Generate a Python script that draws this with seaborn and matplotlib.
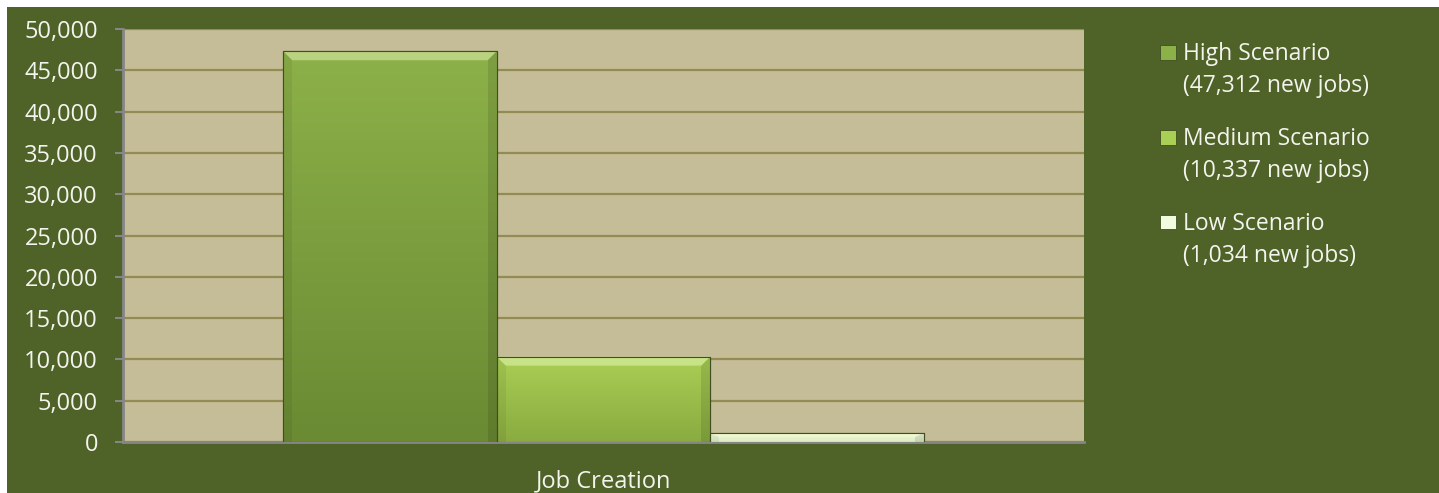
import matplotlib
matplotlib.use("Agg")
import matplotlib.pyplot as plt
import matplotlib.colors as mcolors
import matplotlib.ticker as mticker
from matplotlib.patches import Rectangle, Patch, Polygon
from matplotlib.legend_handler import HandlerPatch
import numpy as np
import pandas as pd
import seaborn as sns

### data
category = ["Job Creation"]
scenarios = ["High Scenario\n(47,312 new jobs)",
             "Medium Scenario\n(10,337 new jobs)",
             "Low Scenario\n(1,034 new jobs)"]
jobs = [47312, 10337, 1034]
y_ticks = list(range(0, 50001, 5000))

### style
sns.set_theme(style='white')
plt.rcParams['font.family'] = ['Open Sans', 'DejaVu Sans']

bg_green = '#4F6228'
plot_tan = '#C4BD97'
grid_col = '#948A54'
axis_gray = '#868686'
text_col = '#F4F4EE'
# top / bottom colours of the gradient fill for each bar
bar_tops = ['#8DB149', '#AACF55', '#F2FADF']
bar_bottoms = ['#6A8A33', '#89AB40', '#DCEBC0']

df = pd.DataFrame({'cat': category * len(scenarios), 'scenario': scenarios, 'jobs': jobs})

fig = plt.figure(figsize=(14.39, 4.93), dpi=100)
fig.patch.set_facecolor('white')
# green chart area with thin white margin at top/left
fig.patches.append(Rectangle((7 / 1439, -0.01), 1, 1.01 - 7 / 493,
                             transform=fig.transFigure, facecolor=bg_green,
                             edgecolor='none', zorder=-10))

ax = fig.add_axes([123 / 1439, 51 / 493, 961 / 1439, 413 / 493])
ax.set_facecolor(plot_tan)

sns.barplot(data=df, x='cat', y='jobs', hue='scenario', hue_order=scenarios,
            palette=bar_tops, width=2 / 3, saturation=1, ax=ax, legend=False,
            edgecolor='#3F4F20', linewidth=0.8, zorder=3)

ax.set_xlim(-0.5, 0.5)
ax.set_ylim(0, 50000)

# gradient fill clipped to each bar, plus a simple bevel
px_x = 1.0 / 961        # one pixel in x data units
px_y = 50000 / 413      # one pixel in y data units
for patch, top, bot in zip(list(ax.patches), bar_tops, bar_bottoms):
    x0, y0 = patch.get_x(), patch.get_y()
    w, h = patch.get_width(), patch.get_height()
    grad = np.linspace(0, 1, 256).reshape(-1, 1)
    cmap = mcolors.LinearSegmentedColormap.from_list('g', [bot, top])
    im = ax.imshow(grad, cmap=cmap, origin='lower', aspect='auto',
                   extent=[x0, x0 + w, y0, y0 + h], zorder=3.5)
    im.set_clip_path(patch)
    b = min(9 * px_y, h * 0.45)
    bx = 9 * px_x
    y1 = y0 + h
    # light top bevel
    ax.add_patch(Polygon([(x0, y1), (x0 + w, y1), (x0 + w - bx, y1 - b), (x0 + bx, y1 - b)],
                         closed=True, facecolor=mcolors.to_rgba('#F0FFC8', 0.45),
                         edgecolor='none', zorder=3.6))
    # darker sides
    ax.add_patch(Polygon([(x0 + w, y1), (x0 + w, y0), (x0 + w - bx, y0), (x0 + w - bx, y1 - b)],
                         closed=True, facecolor=mcolors.to_rgba('black', 0.10),
                         edgecolor='none', zorder=3.6))
    ax.add_patch(Polygon([(x0, y1), (x0, y0), (x0 + bx, y0), (x0 + bx, y1 - b)],
                         closed=True, facecolor=mcolors.to_rgba('black', 0.06),
                         edgecolor='none', zorder=3.6))
    ax.add_patch(Rectangle((x0, y0), w, h, facecolor='none', edgecolor='#3F4F20',
                           linewidth=0.8, zorder=3.7))

ax.set_yticks(y_ticks)
ax.yaxis.set_major_formatter(mticker.StrMethodFormatter('{x:,.0f}'))
ax.grid(axis='y', color=grid_col, linewidth=1.6, zorder=0)
ax.set_axisbelow(True)

ax.set_xticks([0])
ax.set_xticklabels(category)
ax.set_xticks([-0.5, 0.5], minor=True)
ax.tick_params(axis='x', which='major', length=0, pad=20, labelsize=17, colors=text_col)
ax.tick_params(axis='x', which='minor', length=6, width=1.5, color=axis_gray, direction='out')
ax.tick_params(axis='y', length=6, width=1.5, color=axis_gray, direction='out',
               labelsize=17, labelcolor=text_col, pad=12, left=True)
ax.set_xlabel('')
ax.set_ylabel('')

for side in ['top', 'right']:
    ax.spines[side].set_visible(False)
for side in ['left', 'bottom']:
    ax.spines[side].set_color(axis_gray)
    ax.spines[side].set_linewidth(2)


# legend swatch aligned with the first line of each label
def top_swatch(legend, orig_handle, xdescent, ydescent, width, height, fontsize):
    return Rectangle((-xdescent, -ydescent + 0.8 * fontsize), width, height)


handles = [Patch(facecolor=c, edgecolor='#3F4F20', linewidth=0.6) for c in bar_tops]
leg = fig.legend(handles, scenarios, loc='upper left', bbox_to_anchor=(1139 / 1439, 1 - 21 / 493),
                 frameon=False, fontsize=16.5, labelcolor=text_col, handlelength=0.7,
                 handleheight=0.6, handletextpad=0.3, labelspacing=1.26,
                 handler_map={Patch: HandlerPatch(patch_func=top_swatch)})
for t in leg.get_texts():
    t.set_linespacing(1.45)

fig.savefig('out.png', dpi=100)
